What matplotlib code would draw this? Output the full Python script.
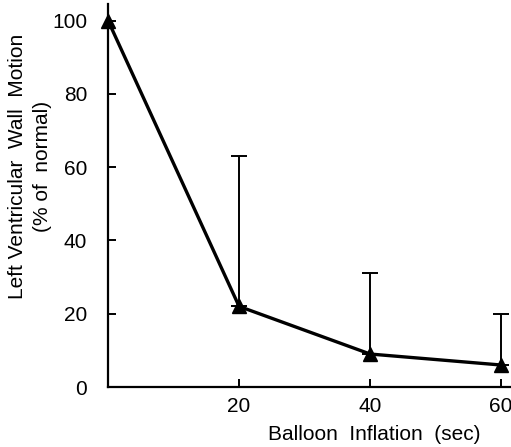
import matplotlib
matplotlib.use("Agg")
import matplotlib.pyplot as plt

# balloon inflation time (sec) vs LV wall motion (% of normal)
inflation_sec = [0, 20, 40, 60]
wall_motion = [100, 22, 9, 6]
sd_upper = [0, 41, 22, 14]

plt.rcParams["font.family"] = ["Liberation Sans", "DejaVu Sans"]

fig = plt.figure(figsize=(5.11, 4.47), dpi=100)
ax = fig.add_axes([0.2114, 0.1342, 0.7886, 0.8568])

ax.errorbar(inflation_sec[1:], wall_motion[1:],
            yerr=[[0] * 3, sd_upper[1:]],
            fmt="none", ecolor="black", elinewidth=1.4, capsize=6, capthick=1.4)
ax.plot(inflation_sec, wall_motion, color="black", lw=2.4,
        marker="^", markersize=10, clip_on=False, zorder=3)

ax.set_xlim(0, 61.5)
ax.set_ylim(0, 104.5)
ax.set_xticks([20, 40, 60])
ax.set_yticks([0, 20, 40, 60, 80, 100])
ax.tick_params(direction="in", length=6, width=1.4, labelsize=15, pad=7)
ax.tick_params(axis="y", pad=15)

for side in ("top", "right"):
    ax.spines[side].set_visible(False)
for side in ("left", "bottom"):
    ax.spines[side].set_linewidth(1.6)

ax.set_xlabel("Balloon  Inflation  (sec)", fontsize=15, ha="right", x=0.925, labelpad=7)
ax.set_ylabel("Left Ventricular  Wall  Motion\n(% of  normal)", fontsize=15,
              linespacing=1.35)
ax.yaxis.set_label_coords(-0.14, 0.575)

fig.savefig("out.png", dpi=100)
